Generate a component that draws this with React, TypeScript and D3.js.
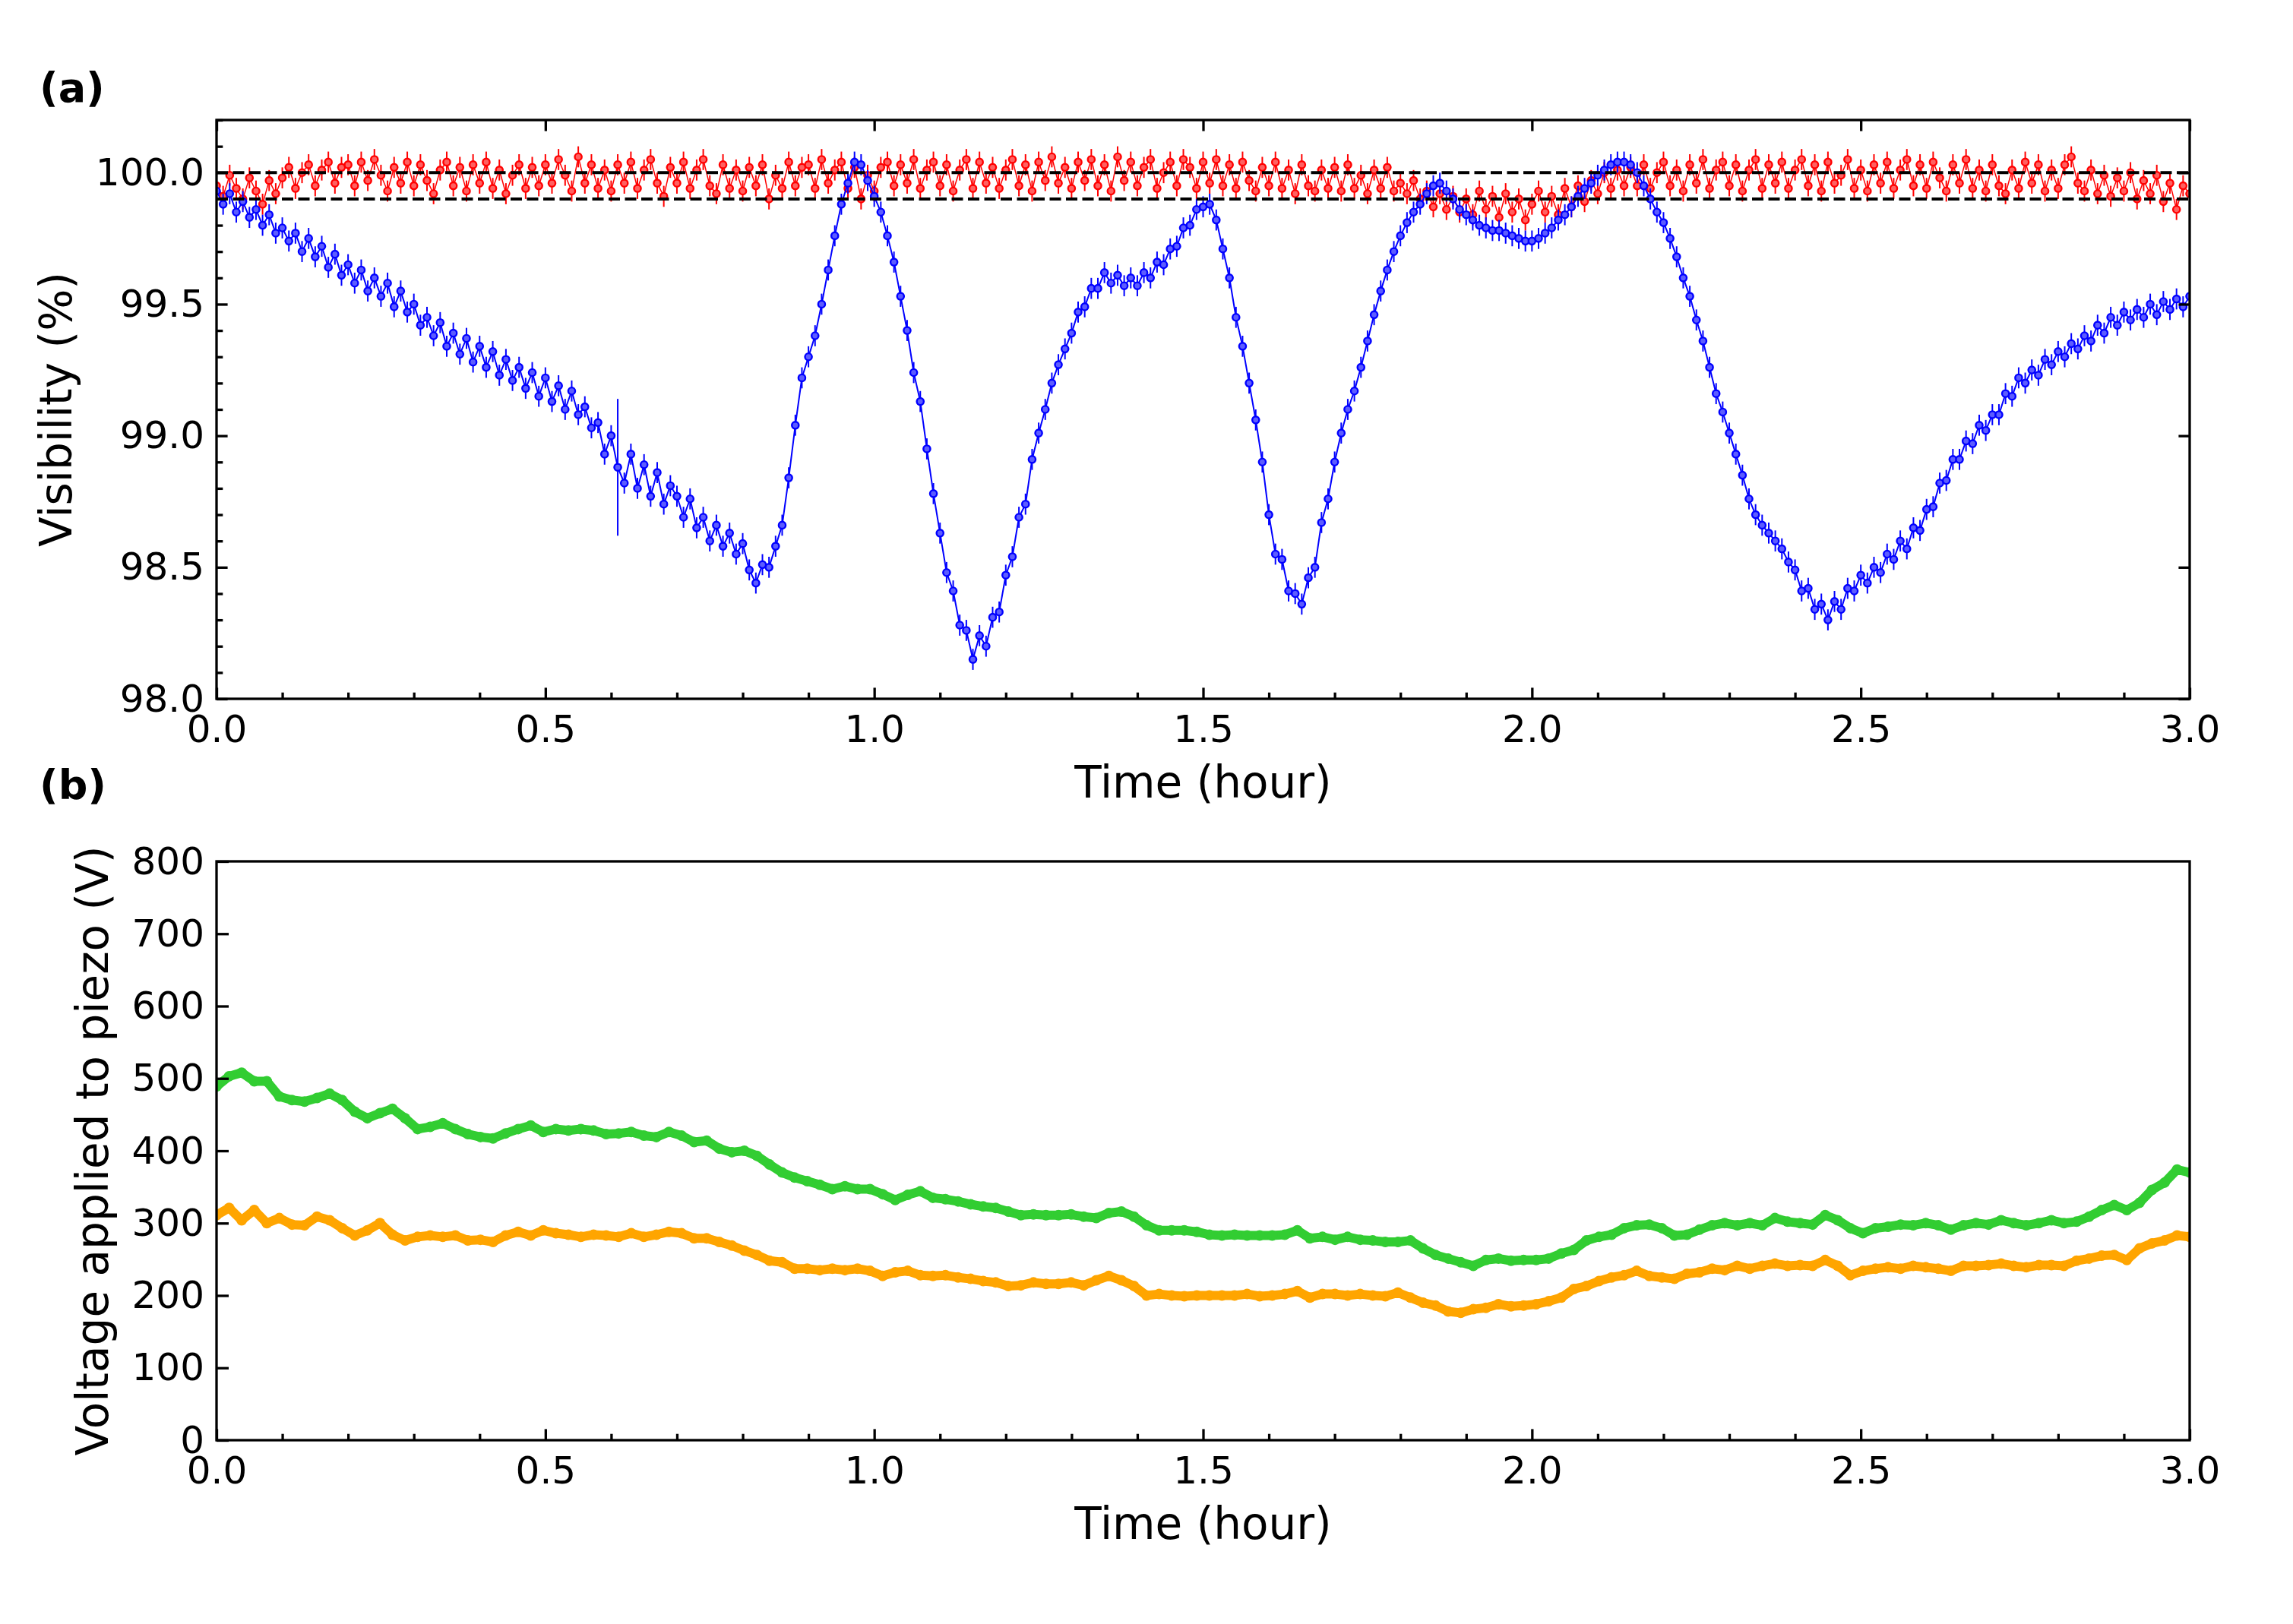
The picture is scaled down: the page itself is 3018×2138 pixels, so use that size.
import * as d3 from 'd3';
import { useEffect, useRef } from 'react';

// time axis (hours) and tick labels
const timeDomain = [0, 3];
const timeTicks = [0, 0.5, 1.0, 1.5, 2.0, 2.5, 3.0];
const visTicks = [98.0, 98.5, 99.0, 99.5, 100.0];
const voltTicks = [0, 100, 200, 300, 400, 500, 600, 700, 800];
const refLevels = [100.0, 99.9];

const visBlue = [
    99.93, 99.88, 99.92, 99.85, 99.89, 99.83, 99.86, 99.80, 99.84, 99.77,
    99.79, 99.74, 99.77, 99.70, 99.75, 99.68, 99.72, 99.64, 99.69, 99.61,
    99.65, 99.58, 99.63, 99.55, 99.60, 99.53, 99.58, 99.49, 99.55, 99.47,
    99.50, 99.42, 99.45, 99.38, 99.43, 99.34, 99.39, 99.31, 99.37, 99.28,
    99.34, 99.26, 99.32, 99.23, 99.29, 99.21, 99.26, 99.18, 99.24, 99.15,
    99.22, 99.13, 99.19, 99.10, 99.17, 99.08, 99.11, 99.03, 99.05, 98.93,
    99.00, 98.88, 98.82, 98.93, 98.80, 98.89, 98.77, 98.86, 98.74, 98.81,
    98.77, 98.69, 98.76, 98.65, 98.69, 98.60, 98.66, 98.58, 98.63, 98.55,
    98.59, 98.49, 98.44, 98.51, 98.50, 98.58, 98.66, 98.84, 99.04, 99.22,
    99.30, 99.38, 99.50, 99.63, 99.76, 99.88, 99.96, 100.04, 100.03, 99.97,
    99.91, 99.85, 99.76, 99.66, 99.53, 99.40, 99.24, 99.13, 98.95, 98.78,
    98.63, 98.48, 98.41, 98.28, 98.26, 98.15, 98.24, 98.20, 98.31, 98.33,
    98.47, 98.54, 98.69, 98.74, 98.91, 99.01, 99.10, 99.20, 99.27, 99.33,
    99.39, 99.47, 99.49, 99.56, 99.56, 99.62, 99.58, 99.61, 99.57, 99.60,
    99.57, 99.62, 99.60, 99.66, 99.65, 99.71, 99.72, 99.79, 99.80, 99.86,
    99.87, 99.88, 99.82, 99.71, 99.60, 99.45, 99.34, 99.20, 99.06, 98.90,
    98.70, 98.55, 98.53, 98.41, 98.40, 98.36, 98.46, 98.50, 98.67, 98.76,
    98.90, 99.01, 99.10, 99.17, 99.26, 99.36, 99.46, 99.55, 99.63, 99.70,
    99.76, 99.81, 99.85, 99.88, 99.92, 99.95, 99.96, 99.93, 99.90, 99.86,
    99.84, 99.82, 99.80, 99.79, 99.78, 99.78, 99.77, 99.76, 99.75, 99.74,
    99.74, 99.75, 99.77, 99.79, 99.82, 99.84, 99.87, 99.91, 99.94, 99.96,
    99.99, 100.01, 100.03, 100.04, 100.04, 100.03, 100.00, 99.95, 99.90, 99.85,
    99.81, 99.75, 99.68, 99.60, 99.53, 99.44, 99.36, 99.26, 99.16, 99.09,
    99.01, 98.93, 98.85, 98.76, 98.70, 98.66, 98.63, 98.60, 98.57, 98.52,
    98.49, 98.41, 98.42, 98.34, 98.36, 98.30, 98.37, 98.34, 98.42, 98.41,
    98.47, 98.44, 98.50, 98.48, 98.55, 98.53, 98.60, 98.57, 98.65, 98.64,
    98.72, 98.73, 98.82, 98.83, 98.91, 98.91, 98.98, 98.97, 99.04, 99.02,
    99.08, 99.08, 99.16, 99.15, 99.22, 99.20, 99.25, 99.23, 99.29, 99.27,
    99.32, 99.30, 99.35, 99.33, 99.38, 99.36, 99.42, 99.39, 99.45, 99.42,
    99.47, 99.44, 99.48, 99.45, 99.50, 99.46, 99.51, 99.48, 99.52, 99.49, 99.53
];

const visRed = [
    99.95, 99.91, 99.99, 99.94, 99.90, 99.98, 99.93, 99.88, 99.97, 99.92,
    99.98, 100.02, 99.94, 100.00, 100.03, 99.95, 100.01, 100.04, 99.96, 100.02,
    100.03, 99.95, 100.04, 99.97, 100.05, 99.99, 99.93, 100.02, 99.96, 100.04,
    99.95, 100.03, 99.97, 99.92, 100.01, 100.04, 99.95, 100.02, 99.93, 100.03,
    99.96, 100.04, 99.94, 100.01, 99.92, 99.99, 100.03, 99.94, 100.02, 99.95,
    100.03, 99.96, 100.05, 99.99, 99.93, 100.06, 99.96, 100.03, 99.94, 100.01,
    99.93, 100.03, 99.96, 100.04, 99.94, 100.01, 100.05, 99.96, 99.91, 100.02,
    99.96, 100.04, 99.94, 100.01, 100.05, 99.95, 99.92, 100.03, 99.94, 100.01,
    99.93, 100.02, 99.95, 100.03, 99.90, 99.99, 99.94, 100.04, 99.95, 100.02,
    100.03, 99.94, 100.05, 99.96, 100.01, 100.04, 99.94, 100.02, 99.90, 99.99,
    99.93, 100.02, 100.04, 99.95, 100.03, 99.96, 100.05, 99.94, 100.01, 100.04,
    99.95, 100.03, 99.93, 100.01, 100.05, 99.94, 100.04, 99.96, 100.02, 99.94,
    100.01, 100.05, 99.95, 100.03, 99.93, 100.04, 99.97, 100.06, 99.96, 100.02,
    99.94, 100.04, 99.97, 100.05, 99.95, 100.03, 99.93, 100.06, 99.97, 100.04,
    99.95, 100.02, 100.05, 99.94, 100.00, 100.04, 99.95, 100.05, 100.02, 99.94,
    100.04, 99.96, 100.05, 99.95, 100.03, 99.94, 100.04, 99.97, 99.93, 100.02,
    99.95, 100.04, 99.94, 100.01, 99.92, 100.03, 99.95, 99.93, 100.01, 99.94,
    100.02, 99.93, 100.03, 99.94, 99.99, 99.92, 100.01, 99.94, 100.02, 99.93,
    99.96, 99.92, 99.97, 99.90, 99.93, 99.87, 99.92, 99.86, 99.91, 99.85,
    99.90, 99.84, 99.93, 99.86, 99.91, 99.83, 99.92, 99.85, 99.90, 99.82,
    99.88, 99.93, 99.85, 99.91, 99.84, 99.94, 99.87, 99.95, 99.89, 99.97,
    99.92, 100.00, 99.94, 100.01, 99.95, 100.02, 99.95, 100.03, 99.94, 100.00,
    100.04, 99.95, 100.01, 99.93, 100.03, 99.96, 100.05, 99.94, 100.01, 100.04,
    99.95, 100.03, 99.93, 100.01, 100.05, 99.94, 100.03, 99.96, 100.04, 99.94,
    100.01, 100.05, 99.95, 100.03, 99.93, 100.04, 99.96, 99.99, 100.05, 99.94,
    100.01, 99.93, 100.03, 99.96, 100.04, 99.94, 100.01, 100.05, 99.95, 100.03,
    99.94, 100.04, 99.98, 99.93, 100.03, 99.96, 100.05, 99.94, 100.01, 99.93,
    100.03, 99.95, 99.92, 100.01, 99.94, 100.04, 99.96, 100.03, 99.93, 100.01,
    99.94, 100.03, 100.06, 99.96, 99.93, 100.01, 99.92, 99.99, 99.91, 99.98,
    99.93, 100.00, 99.90, 99.97, 99.92, 99.99, 99.89, 99.96, 99.86, 99.95, 99.92
];

// error bar half-widths (%)
const visErr = 0.04;
const wideErrBars = [{ series: 'blue', index: 61, err: 0.26 }];

// voltage applied to piezo (V), evenly sampled over the 3 h
const voltGreen = [
    489, 503, 508, 496, 496, 475, 470, 468, 473, 479, 470, 454, 445, 452, 458, 445,
    430, 433, 438, 430, 423, 419, 417, 424, 430, 435, 426, 430, 428, 430, 428, 423,
    424, 426, 421, 419, 426, 421, 412, 414, 403, 398, 400, 393, 381, 370, 363, 358,
    353, 347, 351, 347, 347, 340, 332, 339, 344, 335, 333, 330, 326, 323, 321, 316,
    311, 312, 311, 311, 312, 309, 307, 314, 316, 309, 297, 290, 290, 290, 288, 284,
    283, 284, 283, 283, 283, 284, 290, 279, 281, 277, 281, 277, 276, 274, 274, 276,
    265, 256, 251, 246, 241, 249, 251, 248, 249, 249, 251, 258, 263, 276, 281, 284,
    293, 297, 298, 293, 283, 284, 291, 297, 300, 297, 300, 297, 307, 302, 300, 298,
    311, 304, 293, 286, 293, 295, 298, 297, 300, 297, 291, 297, 300, 298, 304, 300,
    297, 300, 304, 300, 302, 309, 318, 325, 318, 328, 346, 356, 374, 370
];

const voltOrange = [
    311, 321, 304, 318, 300, 307, 298, 297, 309, 304, 293, 283, 290, 300, 284, 276,
    281, 283, 281, 283, 276, 277, 274, 283, 288, 283, 290, 286, 284, 281, 284, 283,
    281, 286, 281, 284, 288, 286, 279, 279, 274, 269, 262, 256, 248, 246, 237, 237,
    235, 237, 235, 237, 234, 227, 232, 234, 228, 227, 228, 225, 223, 220, 218, 213,
    214, 218, 216, 216, 218, 214, 221, 227, 221, 213, 200, 202, 200, 199, 200, 200,
    200, 200, 202, 199, 200, 202, 206, 197, 202, 202, 200, 202, 200, 199, 204, 197,
    190, 186, 178, 176, 181, 183, 188, 185, 186, 188, 192, 197, 209, 213, 220, 225,
    228, 234, 227, 225, 223, 230, 232, 237, 235, 241, 237, 241, 244, 241, 242, 241,
    249, 241, 228, 234, 237, 239, 237, 241, 239, 237, 234, 241, 241, 242, 244, 241,
    239, 242, 242, 241, 248, 251, 255, 256, 249, 265, 272, 276, 283, 281
];

const FONT = 'DejaVu Sans, sans-serif';

const VisibilityFigure = () => {
    const ref = useRef<SVGSVGElement | null>(null);

    useEffect(() => {
        drawChart();
    }, []);

    const drawChart = () => {
        const width = 3018;
        const height = 2138;
        const left = 285;
        const right = 2882;
        const panelA = { top: 158, bottom: 920 };
        const panelB = { top: 1134, bottom: 1896 };

        const svg: any = d3.select(ref.current);
        svg.selectAll('*').remove();
        svg.attr('width', width).attr('height', height).attr('viewBox', `0 0 ${width} ${height}`);
        svg.append('rect').attr('width', width).attr('height', height).attr('fill', '#fff');

        const x = d3.scaleLinear().domain(timeDomain).range([left, right]);
        const yA = d3.scaleLinear().domain([98, 100.2]).range([panelA.bottom, panelA.top]);
        const yB = d3.scaleLinear().domain([0, 800]).range([panelB.bottom, panelB.top]);

        const tAt = (i: number, n: number) => (i * (timeDomain[1] - timeDomain[0])) / (n - 1);
        const minorTime = d3.range(0, 31).map((k) => k / 10).filter((t) => Math.round(t * 10) % 5 !== 0);
        const minorVis = d3.range(980, 1003).map((k) => k / 10).filter((v) => Math.round(v * 10) % 5 !== 0);

        const styleAxis = (g: any, labelSize: number) => {
            g.select('.domain').remove();
            g.selectAll('.tick line').attr('stroke', '#000').attr('stroke-width', 3.3);
            g.selectAll('.tick text')
                .attr('fill', '#000')
                .style('font-family', FONT)
                .style('font-size', labelSize + 'px');
        };

        const drawFrame = (p: any) => {
            svg.append('rect')
                .attr('x', left)
                .attr('y', p.top)
                .attr('width', right - left)
                .attr('height', p.bottom - p.top)
                .attr('fill', 'none')
                .attr('stroke', '#000')
                .attr('stroke-width', 3.3);
        };

        const bottomAxes = (p: any) => {
            svg.append('g')
                .attr('transform', `translate(0,${p.bottom})`)
                .call(d3.axisBottom(x).tickValues(timeTicks).tickSize(-14.6).tickPadding(21).tickFormat(d3.format('.1f') as any))
                .call((g: any) => styleAxis(g, 50));
            svg.append('g')
                .attr('transform', `translate(0,${p.bottom})`)
                .call(d3.axisBottom(x).tickValues(minorTime).tickSize(-8.3).tickFormat(() => ''))
                .call((g: any) => styleAxis(g, 50));
            svg.append('text')
                .attr('x', (left + right) / 2)
                .attr('y', p.bottom + 130)
                .attr('text-anchor', 'middle')
                .style('font-family', FONT)
                .style('font-size', '58px')
                .text('Time (hour)');
        };

        // ---------- panel (a) ----------
        const clipA = svg.append('clipPath').attr('id', 'clipA');
        clipA.append('rect').attr('x', left).attr('y', panelA.top).attr('width', right - left).attr('height', panelA.bottom - panelA.top);
        const plotA = svg.append('g').attr('clip-path', 'url(#clipA)');

        const drawErrSeries = (vals: number[], color: string, light: string, key: string, joinWidth: number) => {
            const n = vals.length;
            const pts = vals.map((v, i) => {
                const wide = wideErrBars.find((w) => w.series === key && w.index === i);
                return { t: tAt(i, n), v, e: wide ? wide.err : visErr };
            });
            const grp = plotA.append('g');
            grp.append('path')
                .datum(pts)
                .attr('d', d3.line<any>().x((d) => x(d.t)).y((d) => yA(d.v)))
                .attr('fill', 'none')
                .attr('stroke', color)
                .attr('stroke-width', joinWidth);
            grp.selectAll('line.err')
                .data(pts)
                .enter()
                .append('line')
                .attr('x1', (d: any) => x(d.t))
                .attr('x2', (d: any) => x(d.t))
                .attr('y1', (d: any) => yA(d.v - d.e))
                .attr('y2', (d: any) => yA(d.v + d.e))
                .attr('stroke', color)
                .attr('stroke-width', 2);
            grp.selectAll('circle')
                .data(pts)
                .enter()
                .append('circle')
                .attr('cx', (d: any) => x(d.t))
                .attr('cy', (d: any) => yA(d.v))
                .attr('r', 4.6)
                .attr('fill', light)
                .attr('stroke', color)
                .attr('stroke-width', 2.4);
        };

        drawErrSeries(visRed, '#ff0000', '#ff6060', 'red', 1.5);
        drawErrSeries(visBlue, '#0000ff', '#5c5cff', 'blue', 2);

        plotA.selectAll('line.ref')
            .data(refLevels)
            .enter()
            .append('line')
            .attr('x1', left)
            .attr('x2', right)
            .attr('y1', (d: number) => yA(d))
            .attr('y2', (d: number) => yA(d))
            .attr('stroke', '#000')
            .attr('stroke-width', 4)
            .attr('stroke-dasharray', '15 6.5');

        svg.append('g')
            .attr('transform', `translate(${left},0)`)
            .call(d3.axisLeft(yA).tickValues(visTicks).tickSize(-14.6).tickPadding(16).tickFormat(d3.format('.1f') as any))
            .call((g: any) => styleAxis(g, 50));
        svg.append('g')
            .attr('transform', `translate(${left},0)`)
            .call(d3.axisLeft(yA).tickValues(minorVis).tickSize(-8.3).tickFormat(() => ''))
            .call((g: any) => styleAxis(g, 50));
        svg.append('g')
            .attr('transform', `translate(${right},0)`)
            .call(d3.axisRight(yA).tickValues(visTicks).tickSize(-14.6).tickFormat(() => ''))
            .call((g: any) => styleAxis(g, 50));
        svg.append('g')
            .attr('transform', `translate(0,${panelA.top})`)
            .call(d3.axisTop(x).tickValues(timeTicks).tickSize(-14.6).tickFormat(() => ''))
            .call((g: any) => styleAxis(g, 50));
        bottomAxes(panelA);
        drawFrame(panelA);

        svg.append('text')
            .attr('transform', `translate(94,${(panelA.top + panelA.bottom) / 2}) rotate(-90)`)
            .attr('text-anchor', 'middle')
            .style('font-family', FONT)
            .style('font-size', '58px')
            .text('Visibility (%)');

        svg.append('text')
            .attr('x', 52)
            .attr('y', 134)
            .style('font-family', FONT)
            .style('font-weight', 700)
            .style('font-size', '54px')
            .text('(a)');

        // ---------- panel (b) ----------
        const clipB = svg.append('clipPath').attr('id', 'clipB');
        clipB.append('rect').attr('x', left).attr('y', panelB.top).attr('width', right - left).attr('height', panelB.bottom - panelB.top);
        const plotB = svg.append('g').attr('clip-path', 'url(#clipB)');

        const drawVolt = (vals: number[], color: string) => {
            const n = vals.length;
            const pts = vals.map((v, i) => ({ t: tAt(i, n), v }));
            const grp = plotB.append('g');
            grp.append('path')
                .datum(pts)
                .attr('d', d3.line<any>().x((d) => x(d.t)).y((d) => yB(d.v)))
                .attr('fill', 'none')
                .attr('stroke', color)
                .attr('stroke-width', 12)
                .attr('stroke-linejoin', 'round')
                .attr('stroke-linecap', 'round');
            grp.selectAll('circle')
                .data(pts)
                .enter()
                .append('circle')
                .attr('cx', (d: any) => x(d.t))
                .attr('cy', (d: any) => yB(d.v))
                .attr('r', 7)
                .attr('fill', color);
        };

        drawVolt(voltGreen, '#32cd32');
        drawVolt(voltOrange, '#ffa500');

        svg.append('g')
            .attr('transform', `translate(${left},0)`)
            .call(d3.axisLeft(yB).tickValues(voltTicks).tickSize(-16).tickPadding(16).tickFormat(d3.format('d') as any))
            .call((g: any) => styleAxis(g, 50));
        bottomAxes(panelB);
        drawFrame(panelB);

        svg.append('text')
            .attr('transform', `translate(142,${(panelB.top + panelB.bottom) / 2}) rotate(-90)`)
            .attr('text-anchor', 'middle')
            .style('font-family', FONT)
            .style('font-size', '58px')
            .text('Voltage applied to piezo (V)');

        svg.append('text')
            .attr('x', 52)
            .attr('y', 1052)
            .style('font-family', FONT)
            .style('font-weight', 700)
            .style('font-size', '54px')
            .text('(b)');
    };

    return (
        <>
            <svg ref={ref} style={{ position: 'absolute', left: 0, top: 0, display: 'block' }}></svg>
        </>
    );
};

export default VisibilityFigure;
